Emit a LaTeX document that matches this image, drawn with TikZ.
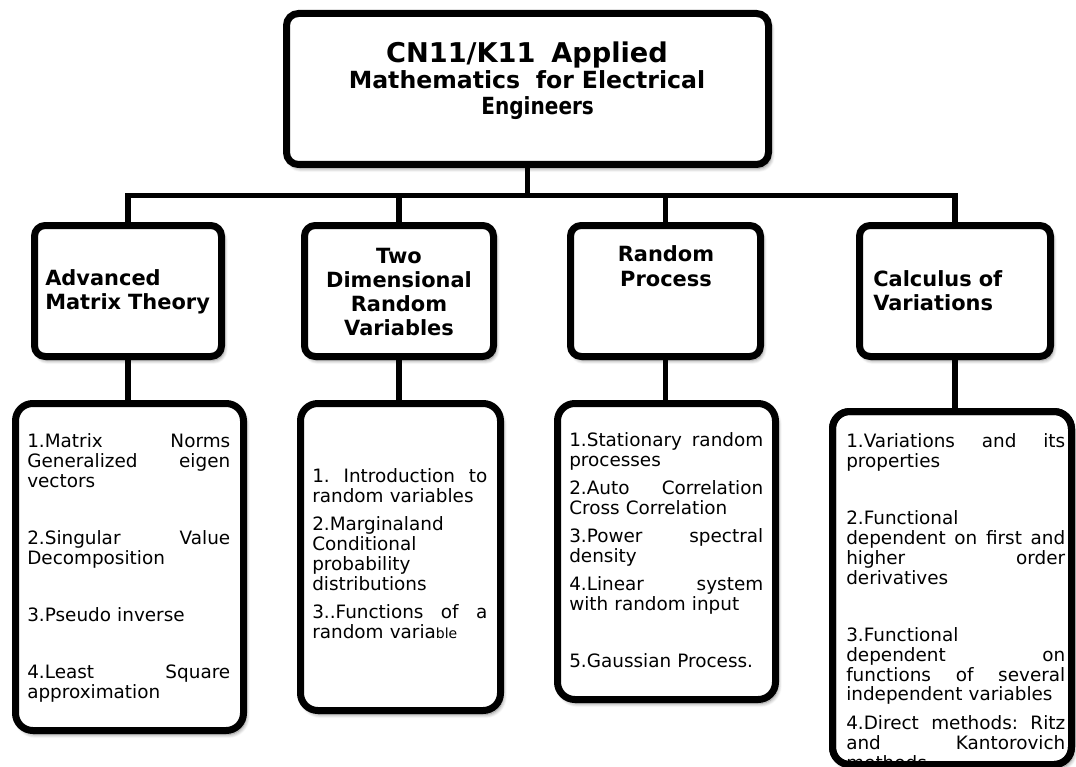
\documentclass[tikz,border=0pt]{standalone}
\usepackage{fontspec}
\setmainfont{DejaVu Sans}
\usetikzlibrary{fit,shadows.blur}

\begin{document}
\begin{tikzpicture}[x=0.75pt,y=-0.75pt,
  panel/.style={draw=black, line width=5.25pt, fill=white, inner sep=0pt, outer sep=0pt,
    rounded corners=#1,
    blur shadow={shadow xshift=1.8pt, shadow yshift=-2.8pt, shadow blur radius=3pt,
                 shadow blur steps=8, shadow opacity=50}},
  link/.style={line width=4pt},
  headtext/.style={inner sep=0pt, text width=#1, font=\bfseries\fontsize{15.7}{18}\selectfont},
  bodytext/.style={inner sep=0pt, text width=#1, align=left, anchor=base west,
    font=\fontsize{13.8}{15}\selectfont},
]
\useasboundingbox (0,0) rectangle (1076,767);

% boxes
\node[panel=9pt, fit={(286.5,13.5) (768.5,164.5)}] (top) {};
\node[panel=8pt, fit={(34.5,225.5) (221.5,356.5)}] (c1) {};
\node[panel=8pt, fit={(304.5,225.5) (493.5,356.5)}] (c2) {};
\node[panel=8pt, fit={(570.5,225.5) (760.5,356.5)}] (c3) {};
\node[panel=8pt, fit={(859.5,225.5) (1050.5,356.5)}] (c4) {};
\node[panel=13pt, fit={(15.5,403.5) (243.5,730.5)}] (l1) {};
\node[panel=13pt, fit={(300.5,403.5) (500.5,710.5)}] (l2) {};
\node[panel=13pt, fit={(557.5,403.5) (775.5,699.5)}] (l3) {};
\node[panel=13pt, fit={(832.5,411.5) (1071.5,764.5)}] (l4) {};

% connectors
\coordinate (bus) at (527,195.5);
\draw[link] (top.south) -- (top.south |- bus);
\draw[link] (c1.north) -- (c1.north |- bus) -- (c4.north |- bus) -- (c4.north);
\draw[link] (c2.north) -- (c2.north |- bus);
\draw[link] (c3.north) -- (c3.north |- bus);
\draw[link] (c1.south) -- (c1.south |- l1.north);
\draw[link] (c2.south) -- (c2.south |- l2.north);
\draw[link] (c3.south) -- (c3.south |- l3.north);
\draw[link] (c4.south) -- (c4.south |- l4.north);

% title
\node[anchor=base, text width=380pt, align=center, inner sep=0pt,
      font=\bfseries\fontsize{17.7}{19.5}\selectfont] (title) at (527,63)
  {{\fontsize{20.4}{19.5}\selectfont CN11/K11\ \ Applied}\\
   Mathematics\ \ for Electrical\\
   \hspace*{16pt}\scalebox{0.85}[1]{Engineers}};

% section headings
\node[headtext=150pt, align=left, anchor=base west] (c1t) at (45,285) {Advanced\\Matrix Theory};
\node[headtext=150pt, align=center, anchor=base] (c2t) at (399,263) {Two\\Dimensional\\Random\\Variables};
\node[headtext=150pt, align=center, anchor=base] (c3t) at (666,262) {Random\\Process};
\node[headtext=150pt, align=left, anchor=base west] (c4t) at (873,286) {Calculus of\\Variations};

% topic lists (full lines are spread with \hfill)
\node[bodytext=152.25pt] (l1t) at (27,447)
  {1.Matrix\hfill Norms\\
   Generalized\hfill eigen\\
   vectors\\[27.75pt]
   2.Singular\hfill Value\\
   Decomposition\\[27.75pt]
   3.Pseudo inverse\\[27.75pt]
   4.Least\hfill Square\\
   approximation};

\node[bodytext=131.25pt] (l2t) at (312,482)
  {1.\hfill Introduction\hfill to\\
   random variables\\[6pt]
   2.Marginaland\\
   Conditional\\
   probability\\
   distributions\\[6pt]
   3..Functions\hfill of\hfill a\\
   random varia{\fontsize{10.5}{15}\selectfont ble}};

\node[bodytext=145.5pt] (l3t) at (569,446)
  {1.Stationary\hfill random\\
   processes\\[6pt]
   2.Auto\hfill Correlation\\
   Cross Correlation\\[6pt]
   3.Power\hfill spectral\\
   density\\[6pt]
   4.Linear\hfill system\\
   with random input\\[27.75pt]
   5.Gaussian Process.};

\node[bodytext=164.25pt] (l4t) at (846,447)
  {1.Variations\hfill and\hfill its\\
   properties\\[27.75pt]
   2.Functional\\
   dependent\hfill on\hfill first\hfill and\\
   higher\hfill order\\
   derivatives\\[27.75pt]
   3.Functional\\
   dependent\hfill on\\
   functions\hfill of\hfill several\\
   independent variables\\[6pt]
   4.Direct\hfill methods:\hfill Ritz\\
   and\hfill Kantorovich\\
   methods};

% the last list runs past its box: the border is drawn over it again
\draw[line width=5.25pt, rounded corners=13pt] (l4.south west) rectangle (l4.north east);
\end{tikzpicture}
\end{document}
